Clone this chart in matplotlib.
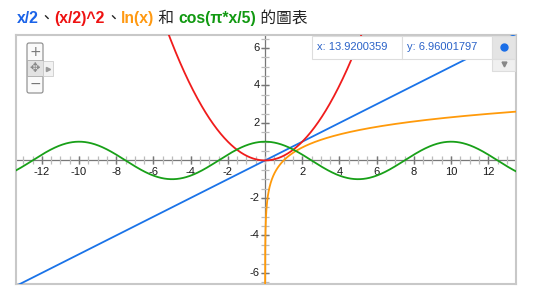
import numpy as np
import matplotlib
matplotlib.use('Agg')
from matplotlib import pyplot as plt, patches

plt.rcParams['font.family'] = ['Liberation Sans', 'Noto Sans CJK TC', 'DejaVu Sans']

# 視窗範圍 (從截圖量出來的)
x_range = (-13.39, 13.49)
y_range = (-6.59, 6.69)

# 標題: (文字, 顏色, 粗體)
title_parts = [
    ("x/2", "#1b63e8", True),
    ("、", "#222222", False),
    ("(x/2)^2", "#ee1111", True),
    ("、", "#222222", False),
    ("ln(x)", "#ff9911", True),
    (" 和 ", "#222222", False),
    ("cos(π*x/5)", "#119911", True),
    (" 的圖表", "#222222", False),
]

curve_names = ["x/2", "(x/2)^2", "ln(x)", "cos(pi*x/5)"]
curve_colors = ["#1a73e8", "#f01c1c", "#ff9a0a", "#18a018"]

x_ticks = [-12, -10, -8, -6, -4, -2, 2, 4, 6, 8, 10, 12]
y_ticks = [-6, -4, -2, 2, 4, 6]

tooltip_x = "x: 13.9200359"
tooltip_y = "y: 6.96001797"


def curve(name, xs):
    if name == "x/2":
        return xs / 2
    if name == "(x/2)^2":
        return (xs / 2) ** 2
    if name == "ln(x)":
        return np.log(xs)
    return np.cos(np.pi * xs / 5)


W, H = 534, 302
fig = plt.figure(figsize=(W / 100, H / 100), dpi=100)
ax = fig.add_axes([16 / W, 1 - 284 / H, 500 / W, 249 / H])
ax.set_xlim(*x_range)
ax.set_ylim(*y_range)
ax.set_xticks([])
ax.set_yticks([])
for s in ax.spines.values():
    s.set_color('#c8c8c8')
    s.set_linewidth(1.5)

# 座標軸
ax.axhline(0, color='#777777', lw=0.9, zorder=1)
ax.axvline(0, color='#777777', lw=0.9, zorder=1)
minor_x = np.arange(-13, 13.6, 0.5)
minor_y = np.arange(-6.5, 6.6, 0.5)
ax.plot(minor_x, np.zeros_like(minor_x), '|', color='#bbbbbb', ms=6, mew=0.9, zorder=1)
ax.plot(np.zeros_like(minor_y), minor_y, '_', color='#bbbbbb', ms=6, mew=0.9, zorder=1)
ax.plot(x_ticks, np.zeros(len(x_ticks)), '|', color='#777777', ms=6, mew=1.0, zorder=1)
ax.plot(np.zeros(len(y_ticks)), y_ticks, '_', color='#777777', ms=6, mew=1.0, zorder=1)

for t in x_ticks:
    ax.annotate(str(t), (t, 0), xytext=(0, -5), textcoords='offset points',
                ha='center', va='top', fontsize=8, color='#1a1a1a')
for t in y_ticks:
    ax.annotate(str(t), (0, t), xytext=(-4, 0), textcoords='offset points',
                ha='right', va='center', fontsize=8, color='#1a1a1a')

# 曲線
for name, c in zip(curve_names, curve_colors):
    if name == "ln(x)":
        xs = np.geomspace(1e-3, x_range[1], 800)
    else:
        xs = np.linspace(x_range[0], x_range[1], 800)
    ax.plot(xs, curve(name, xs), color=c, lw=1.3, zorder=3)

# 上層: 工具列、提示框、標題 (像素座標)
ov = fig.add_axes([0, 0, 1, 1], zorder=5)
ov.set_xlim(0, W)
ov.set_ylim(H, 0)
ov.axis('off')
ov.patch.set_alpha(0)

# 左上角縮放控制
ov.add_patch(patches.FancyBboxPatch((27, 43), 16, 50, boxstyle='round,pad=0,rounding_size=2',
                                    fc='#fafafa', ec='#888888', lw=0.8))
ov.add_patch(patches.Rectangle((27, 60), 16, 16, fc='#e2e2e2', ec='#aaaaaa', lw=0.6))
ov.add_patch(patches.Rectangle((43, 61), 10, 15, fc='#f2f2f2', ec='#cccccc', lw=0.6))
ov.text(35, 52, '+', ha='center', va='center', fontsize=10, color='#777777', family='DejaVu Sans')
ov.text(35, 68, '✥', ha='center', va='center', fontsize=9, color='#888888', family='DejaVu Sans')
ov.text(35, 84, '−', ha='center', va='center', fontsize=10, color='#777777', family='DejaVu Sans')
ov.plot([48], [68.5], marker='>', color='#999999', ms=3)

# 右上角提示框
ov.add_patch(patches.Rectangle((312, 36), 90, 23, fc='white', ec='#dddddd', lw=0.8))
ov.add_patch(patches.Rectangle((402, 36), 90, 23, fc='white', ec='#dddddd', lw=0.8))
ov.add_patch(patches.Rectangle((492, 36), 23, 23, fc='#e4e4e4', ec='#dddddd', lw=0.8))
ov.add_patch(patches.Rectangle((492, 59), 23, 12, fc='#f0f0f0', ec='#dddddd', lw=0.8))
ov.text(317, 47.5, tooltip_x, ha='left', va='center', fontsize=8, color='#2a62c8')
ov.text(407, 47.5, tooltip_y, ha='left', va='center', fontsize=8, color='#2a62c8')
ov.plot([503.5], [47], 'o', color='#1a6ee8', ms=5)
ov.plot([503.5], [64], marker='v', color='#888888', ms=3.5)

# 標題
renderer = fig.canvas.get_renderer()
xpos = 17
for txt, c, bold in title_parts:
    t = ov.text(xpos, 23, txt, ha='left', va='baseline', fontsize=11.3, color=c,
                fontweight='bold' if bold else 'normal')
    bb = t.get_window_extent(renderer)
    xpos += bb.width

fig.savefig('out.png', dpi=100)
